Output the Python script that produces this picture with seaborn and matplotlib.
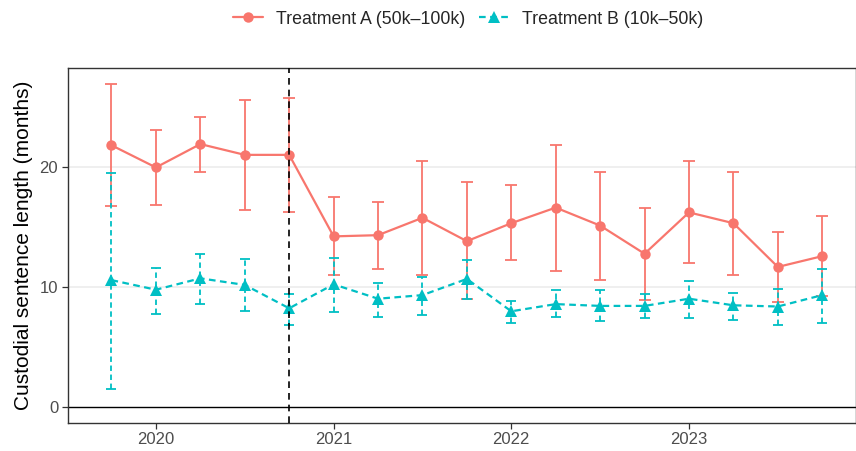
import numpy as np
import pandas as pd
import matplotlib
matplotlib.use("Agg")
import matplotlib.pyplot as plt
import seaborn as sns

quarters = [2019.75, 2020.0, 2020.25, 2020.5, 2020.75, 2021.0, 2021.25, 2021.5, 2021.75,
            2022.0, 2022.25, 2022.5, 2022.75, 2023.0, 2023.25, 2023.5, 2023.75]

a_mean = [21.8, 19.95, 21.9, 21.0, 21.0, 14.2, 14.3, 15.75, 13.8, 15.3, 16.6, 15.1, 12.75, 16.2, 15.3, 11.65, 12.55]
a_low = [16.7, 16.8, 19.55, 16.4, 16.25, 11.0, 11.5, 11.0, 8.95, 12.2, 11.35, 10.6, 8.9, 11.95, 11.0, 8.7, 9.2]
a_high = [26.9, 23.1, 24.2, 25.6, 25.75, 17.5, 17.1, 20.5, 18.7, 18.45, 21.8, 19.6, 16.55, 20.5, 19.6, 14.6, 15.9]

b_mean = [10.55, 9.75, 10.7, 10.15, 8.2, 10.2, 9.0, 9.3, 10.65, 7.95, 8.55, 8.4, 8.4, 9.0, 8.45, 8.35, 9.3]
b_low = [1.5, 7.7, 8.6, 8.0, 6.8, 7.9, 7.5, 7.65, 9.0, 6.95, 7.45, 7.1, 7.35, 7.35, 7.2, 6.8, 7.0]
b_high = [19.5, 11.6, 12.7, 12.3, 9.4, 12.4, 10.35, 10.85, 12.2, 8.85, 9.7, 9.7, 9.4, 10.5, 9.5, 9.8, 11.5]

series_names = ["Treatment A (50k\u2013100k)", "Treatment B (10k\u201350k)"]
colors = ["#F8766D", "#00BFC4"]
cutoff = 2020.75
x_ticks = [2020, 2021, 2022, 2023]
y_ticks = [0, 10, 20]

df = pd.DataFrame({
    "quarter": quarters * 2,
    "value": a_mean + b_mean,
    "low": a_low + b_low,
    "high": a_high + b_high,
    "group": [series_names[0]] * len(quarters) + [series_names[1]] * len(quarters),
})

sns.set_theme(style="white")
plt.rcParams["font.family"] = ["Liberation Sans", "DejaVu Sans"]

fig = plt.figure(figsize=(8.56, 4.51), dpi=100)
ax = fig.add_axes([0.0794, 0.0627, 0.9206, 0.7865])

# horizontal gridlines
for yv in y_ticks[1:]:
    ax.axhline(yv, color="#EBEBEB", lw=1.1, zorder=0)
ax.axhline(0, color="black", lw=1.0, zorder=1)

dash_b = (0, (3, 2))
styles = ["-", dash_b]
caps = [4.0, 3.6]
for name, col, ls, cs in zip(series_names, colors, styles, caps):
    sub = df[df["group"] == name]
    eb = ax.errorbar(sub["quarter"], sub["value"],
                     yerr=[sub["value"] - sub["low"], sub["high"] - sub["value"]],
                     fmt="none", ecolor=col, elinewidth=1.3, capsize=cs,
                     capthick=1.3, zorder=2)
    if ls != "-":
        for lc in eb[2]:
            lc.set_linestyle(dash_b)

sns.lineplot(data=df, x="quarter", y="value", hue="group", style="group",
             hue_order=series_names, style_order=series_names,
             palette=colors, markers={series_names[0]: "o", series_names[1]: "^"},
             dashes={series_names[0]: "", series_names[1]: (3, 2)},
             markersize=7.5, markeredgewidth=0, linewidth=1.6, ax=ax, zorder=3)

for ln in ax.get_lines():
    if ln.get_marker() == "^":
        ln.set_markersize(9)

ax.axvline(cutoff, color="black", lw=1.2, ls=(0, (4, 3)), zorder=4)

ax.set_xlim(2019.505, 2023.94)
ax.set_ylim(-1.345, 28.245)
ax.set_xticks(x_ticks)
ax.set_xticklabels([str(t) for t in x_ticks])
ax.set_yticks(y_ticks)
ax.tick_params(axis="both", which="both", length=4.5, width=0.9, color="#333333",
               labelsize=12, labelcolor="#4D4D4D", pad=2.5, bottom=True, left=True)
ax.set_xlabel("")
ax.set_ylabel("Custodial sentence length (months)", fontsize=15, color="black", labelpad=5)
for sp in ax.spines.values():
    sp.set_visible(True)
    sp.set_color("#333333")
    sp.set_linewidth(1.0)

handles, labels = ax.get_legend_handles_labels()
ax.legend(handles=handles, labels=labels, loc="center", bbox_to_anchor=(468 / 856, 1 - 19 / 451),
          bbox_transform=fig.transFigure, ncol=2, frameon=False, fontsize=12.8,
          handlelength=1.7, columnspacing=0.8, handletextpad=0.7, borderpad=0.2)

fig.savefig("out.png", dpi=100)
